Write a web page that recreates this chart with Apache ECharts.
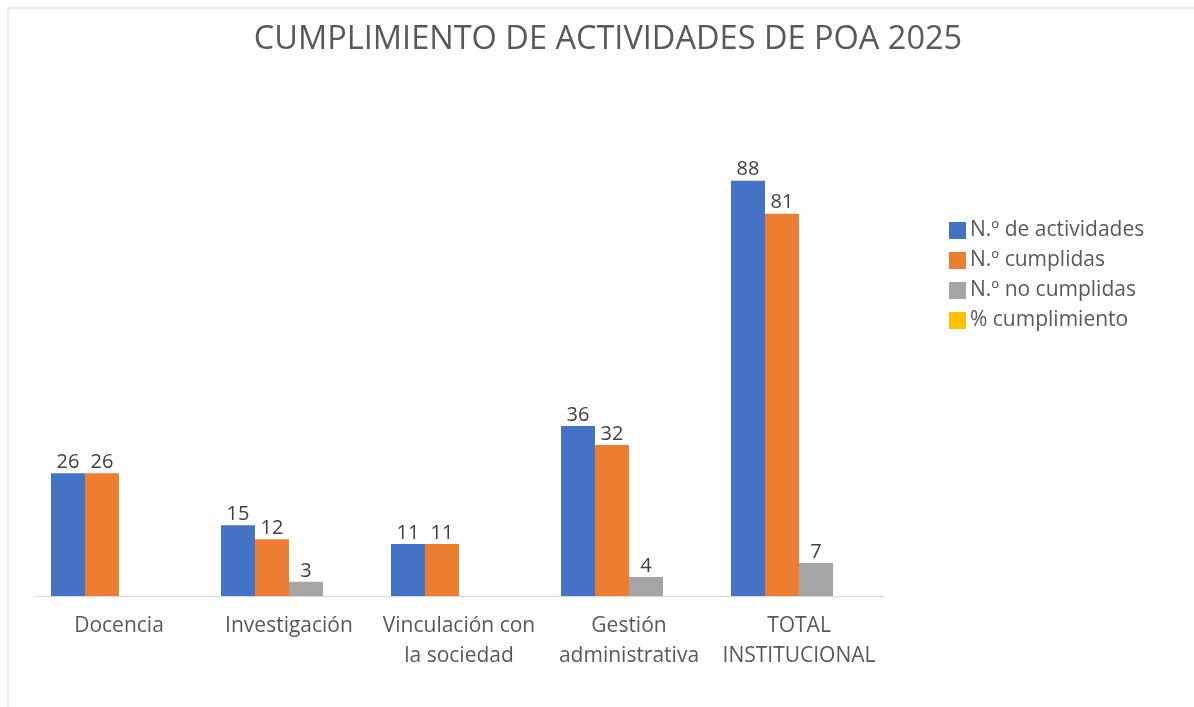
<!DOCTYPE html>
<html>
<head>
<meta charset="utf-8">
<script src="https://cdn.jsdelivr.net/npm/echarts@6/dist/echarts.min.js"></script>
<style>
  html, body { margin: 0; padding: 0; background: #ffffff; }
  #chart { width: 1194px; height: 707px; }
</style>
</head>
<body>
<div id="chart"></div>
<script>
// Areas of the institutional plan (POA 2025)
const categories = [
  'Docencia',
  'Investigación',
  'Vinculación con\nla sociedad',
  'Gestión\nadministrativa',
  'TOTAL\nINSTITUCIONAL'
];

const seriesNames = ['N.º de actividades', 'N.º cumplidas', 'N.º no cumplidas', '% cumplimiento'];

const totalActivities = [26, 15, 11, 36, 88];
const completed       = [26, 12, 11, 32, 81];
const notCompleted    = [null, 3, null, 4, 7];
const completionPct   = [];

const colors = ['#4472c4', '#ed7d31', '#a5a5a5', '#ffc000'];
const FONT = '"Open Sans", "Noto Sans", sans-serif';

const chart = echarts.init(document.getElementById('chart'), null, { renderer: 'canvas' });

const valueLabel = {
  show: true,
  position: 'top',
  distance: 1,
  color: '#404040',
  fontSize: 20,
  fontFamily: FONT
};

function barSeries(name, data, color) {
  return {
    name: name,
    type: 'bar',
    data: data,
    barGap: '0%',
    barCategoryGap: '20%',
    itemStyle: { color: color },
    label: valueLabel
  };
}

chart.setOption({
  animation: false,
  backgroundColor: '#ffffff',
  color: colors,
  title: {
    text: 'CUMPLIMIENTO DE ACTIVIDADES DE POA 2025',
    left: 603,
    textAlign: 'center',
    top: 18,
    textStyle: {
      color: '#595959',
      fontSize: 32.5,
      fontWeight: 'normal',
      fontFamily: FONT
    }
  },
  legend: {
    orient: 'vertical',
    left: 944,
    top: 215,
    itemWidth: 17,
    itemHeight: 17,
    itemGap: 9,
    icon: 'rect',
    textStyle: {
      color: '#595959',
      fontSize: 21,
      fontFamily: FONT,
      padding: [0, 0, 0, -1]
    },
    data: seriesNames
  },
  grid: {
    left: 34,
    right: 310,
    top: 124,
    bottom: 111,
    containLabel: false
  },
  xAxis: {
    type: 'category',
    data: categories,
    axisLine: { show: true, lineStyle: { color: '#d9d9d9', width: 1 } },
    axisTick: { show: false },
    axisLabel: {
      color: '#595959',
      fontSize: 21,
      fontFamily: FONT,
      lineHeight: 30,
      margin: 15,
      interval: 0
    }
  },
  yAxis: {
    type: 'value',
    min: 0,
    max: 100,
    show: false,
    splitLine: { show: false }
  },
  series: [
    barSeries(seriesNames[0], totalActivities, colors[0]),
    barSeries(seriesNames[1], completed, colors[1]),
    barSeries(seriesNames[2], notCompleted, colors[2]),
    barSeries(seriesNames[3], completionPct, colors[3])
  ],
  graphic: [
    { type: 'line', shape: { x1: 8, y1: 8, x2: 1194, y2: 8 }, style: { stroke: '#ebebeb', lineWidth: 2 }, silent: true },
    { type: 'line', shape: { x1: 8, y1: 8, x2: 8, y2: 707 }, style: { stroke: '#ebebeb', lineWidth: 2 }, silent: true }
  ]
});
</script>
</body>
</html>
